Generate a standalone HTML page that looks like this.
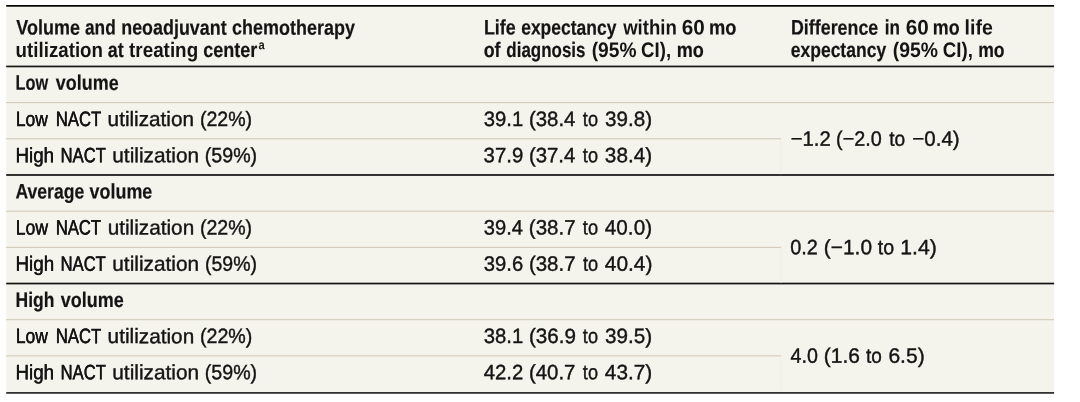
<!DOCTYPE html>
<html lang="en">
<head>
<meta charset="utf-8">
<title>Table</title>
<style>
html,body{margin:0;padding:0;background:#fff;}
body{width:1080px;height:402px;position:relative;overflow:hidden;font-family:"Liberation Sans",sans-serif;color:#141414;}
#bg{position:absolute;left:0;top:0;}
#tx{position:absolute;left:0;top:0;width:1080px;height:402px;will-change:transform;}
.t{position:absolute;left:0;top:0;white-space:nowrap;line-height:24px;height:24px;transform-origin:0 0;text-rendering:geometricPrecision;}
.b{font-weight:bold;font-size:21.0px;}
.k{-webkit-text-stroke:0.2px #141414;}
.r{font-size:20.7px;-webkit-text-stroke:0.4px #141414;}
.n{font-size:20.75px;-webkit-text-stroke:0.4px #141414;}
.s{font-weight:bold;font-size:13px;}
</style>
</head>
<body>
<svg id="bg" width="1080" height="402" viewBox="0 0 1080 402">
<rect x="6.2" y="5.5" width="1047.8999999999999" height="387.0" fill="#f5f4ec"/>
<rect x="6.2" y="5.00" width="1047.90" height="1.7" fill="#000"/>
<rect x="6.2" y="65.60" width="1047.90" height="1.7" fill="#181818"/>
<rect x="6.2" y="102.13" width="1047.90" height="1.0" fill="#cec6b4"/>
<rect x="6.2" y="138.31" width="775.00" height="1.0" fill="#cec6b4"/>
<rect x="6.2" y="174.14" width="1047.90" height="1.7" fill="#111"/>
<rect x="6.2" y="210.67" width="1047.90" height="1.0" fill="#cec6b4"/>
<rect x="6.2" y="246.85" width="775.00" height="1.0" fill="#cec6b4"/>
<rect x="6.2" y="282.68" width="1047.90" height="1.7" fill="#111"/>
<rect x="6.2" y="319.21" width="1047.90" height="1.0" fill="#cec6b4"/>
<rect x="6.2" y="355.39" width="775.00" height="1.0" fill="#cec6b4"/>
<rect x="6.2" y="392.00" width="1047.90" height="1.8" fill="#333331"/>
<rect x="780.3" y="139.31" width="1" height="34.88" fill="#efeee5"/>
<rect x="780.3" y="247.85" width="1" height="34.88" fill="#efeee5"/>
<rect x="780.3" y="356.39" width="1" height="34.88" fill="#efeee5"/>
</svg>
<div id="tx">
<div class="ln">
<div class="t b k" style="transform:matrix(0.8557,0.0005,0,1,16.31,16.60)">Volume </div>
<div class="t b k" style="transform:matrix(0.8229,0.0005,0,1,84.96,16.60)">and </div>
<div class="t b k" style="transform:matrix(0.8518,0.0005,0,1,121.23,16.60)">neoadjuvant </div>
<div class="t b k" style="transform:matrix(0.8558,0.0005,0,1,232.07,16.60)">chemotherapy </div>
</div>
<div class="ln">
<div class="t b" style="transform:matrix(0.8918,0.0005,0,1,15.60,39.00)">utilization </div>
<div class="t b k" style="transform:matrix(0.8541,0.0005,0,1,107.79,39.00)">at </div>
<div class="t b" style="transform:matrix(0.8968,0.0005,0,1,129.07,39.00)">treating </div>
<div class="t b k" style="transform:matrix(0.8599,0.0005,0,1,203.19,39.00)">center </div>
</div>
<div class="ln">
<div class="t s" style="transform:matrix(0.8577,0.0005,0,1,258.47,33.20)">a </div>
</div>
<div class="ln">
<div class="t b k" style="transform:matrix(0.8519,0.0005,0,1,483.88,16.60)">Life </div>
<div class="t b k" style="transform:matrix(0.8325,0.0005,0,1,521.17,16.60)">expectancy </div>
<div class="t b" style="transform:matrix(0.8854,0.0005,0,1,623.13,16.60)">within </div>
<div class="t b" style="transform:matrix(0.9864,0.0005,0,1,681.85,16.60)">60 </div>
<div class="t b k" style="transform:matrix(0.8720,0.0005,0,1,708.93,16.60)">mo </div>
</div>
<div class="ln">
<div class="t b k" style="transform:matrix(0.8484,0.0005,0,1,483.70,39.00)">of </div>
<div class="t b k" style="transform:matrix(0.8078,0.0005,0,1,506.32,39.00)">diagnosis </div>
<div class="t b" style="transform:matrix(0.9144,0.0005,0,1,591.63,39.00)">(95% </div>
<div class="t b" style="transform:matrix(0.8865,0.0005,0,1,641.10,39.00)">CI), </div>
<div class="t b k" style="transform:matrix(0.8626,0.0005,0,1,676.63,39.00)">mo </div>
</div>
<div class="ln">
<div class="t b k" style="transform:matrix(0.8500,0.0005,0,1,790.98,16.60)">Difference </div>
<div class="t b k" style="transform:matrix(0.8143,0.0005,0,1,884.87,16.60)">in </div>
<div class="t b" style="transform:matrix(0.9866,0.0005,0,1,905.66,16.60)">60 </div>
<div class="t b k" style="transform:matrix(0.8492,0.0005,0,1,932.80,16.60)">mo </div>
<div class="t b" style="transform:matrix(0.9296,0.0005,0,1,964.56,16.60)">life </div>
</div>
<div class="ln">
<div class="t b k" style="transform:matrix(0.8342,0.0005,0,1,790.70,39.00)">expectancy </div>
<div class="t b" style="transform:matrix(0.9241,0.0005,0,1,892.69,39.00)">(95% </div>
<div class="t b" style="transform:matrix(0.8936,0.0005,0,1,942.70,39.00)">CI), </div>
<div class="t b k" style="transform:matrix(0.8389,0.0005,0,1,978.18,39.00)">mo </div>
</div>
<div class="ln">
<div class="t b k" style="transform:matrix(0.7781,0.0005,0,1,15.61,71.85)">Low </div>
<div class="t b k" style="transform:matrix(0.8531,0.0005,0,1,55.87,71.85)">volume </div>
</div>
<div class="ln">
<div class="t r" style="text-shadow:0.20px 0 0 #141414;transform:matrix(0.8470,0.0005,0,1,15.71,108.03)">Low </div>
<div class="t r" style="text-shadow:0.26px 0 0 #141414;transform:matrix(0.8060,0.0005,0,1,55.74,108.03)">NACT </div>
<div class="t r" style="transform:matrix(1.0020,0.0005,0,1,107.61,108.03)">utilization </div>
<div class="t r" style="transform:matrix(0.9456,0.0005,0,1,199.92,108.03)">(22%) </div>
</div>
<div class="ln">
<div class="t n" style="transform:matrix(0.9761,0.0005,0,1,483.76,108.03)">39.1 </div>
<div class="t n" style="transform:matrix(0.9828,0.0005,0,1,528.95,108.03)">(38.4 </div>
<div class="t n" style="transform:matrix(0.8753,0.0005,0,1,582.87,108.03)">to </div>
<div class="t n" style="transform:matrix(0.9953,0.0005,0,1,605.01,108.03)">39.8) </div>
</div>
<div class="ln">
<div class="t n" style="transform:matrix(0.9768,0.0005,0,1,790.70,127.67)">−1.2 </div>
<div class="t n" style="transform:matrix(0.9563,0.0005,0,1,836.04,127.67)">(−2.0 </div>
<div class="t n" style="transform:matrix(0.9211,0.0005,0,1,889.30,127.67)">to </div>
<div class="t n" style="transform:matrix(0.9888,0.0005,0,1,912.33,127.67)">−0.4) </div>
</div>
<div class="ln">
<div class="t r" style="text-shadow:0.11px 0 0 #141414;transform:matrix(0.9083,0.0005,0,1,15.43,144.21)">High </div>
<div class="t r" style="text-shadow:0.27px 0 0 #141414;transform:matrix(0.8017,0.0005,0,1,60.61,144.21)">NACT </div>
<div class="t r" style="transform:matrix(1.0067,0.0005,0,1,112.29,144.21)">utilization </div>
<div class="t r" style="transform:matrix(0.9481,0.0005,0,1,204.83,144.21)">(59%) </div>
</div>
<div class="ln">
<div class="t n" style="transform:matrix(0.9803,0.0005,0,1,483.60,144.21)">37.9 </div>
<div class="t n" style="transform:matrix(0.9827,0.0005,0,1,528.90,144.21)">(37.4 </div>
<div class="t n" style="transform:matrix(0.8764,0.0005,0,1,582.87,144.21)">to </div>
<div class="t n" style="transform:matrix(0.9989,0.0005,0,1,604.87,144.21)">38.4) </div>
</div>
<div class="ln">
<div class="t b k" style="transform:matrix(0.8378,0.0005,0,1,15.43,180.39)">Average </div>
<div class="t b k" style="transform:matrix(0.8526,0.0005,0,1,89.62,180.39)">volume </div>
</div>
<div class="ln">
<div class="t r" style="text-shadow:0.19px 0 0 #141414;transform:matrix(0.8511,0.0005,0,1,15.64,216.57)">Low </div>
<div class="t r" style="text-shadow:0.27px 0 0 #141414;transform:matrix(0.8045,0.0005,0,1,55.68,216.57)">NACT </div>
<div class="t r" style="transform:matrix(1.0034,0.0005,0,1,107.65,216.57)">utilization </div>
<div class="t r" style="transform:matrix(0.9460,0.0005,0,1,199.88,216.57)">(22%) </div>
</div>
<div class="ln">
<div class="t n" style="transform:matrix(0.9721,0.0005,0,1,483.79,216.57)">39.4 </div>
<div class="t n" style="transform:matrix(0.9872,0.0005,0,1,528.87,216.57)">(38.7 </div>
<div class="t n" style="transform:matrix(0.8780,0.0005,0,1,582.87,216.57)">to </div>
<div class="t n" style="transform:matrix(0.9993,0.0005,0,1,604.80,216.57)">40.0) </div>
</div>
<div class="ln">
<div class="t n" style="transform:matrix(0.9612,0.0005,0,1,790.23,236.21)">0.2 </div>
<div class="t n" style="transform:matrix(1.0063,0.0005,0,1,823.84,236.21)">(−1.0 </div>
<div class="t n" style="transform:matrix(0.9460,0.0005,0,1,877.87,236.21)">to </div>
<div class="t n" style="transform:matrix(1.0204,0.0005,0,1,900.29,236.21)">1.4) </div>
</div>
<div class="ln">
<div class="t r" style="text-shadow:0.11px 0 0 #141414;transform:matrix(0.9108,0.0005,0,1,15.39,252.75)">High </div>
<div class="t r" style="text-shadow:0.27px 0 0 #141414;transform:matrix(0.8021,0.0005,0,1,60.59,252.75)">NACT </div>
<div class="t r" style="transform:matrix(1.0060,0.0005,0,1,112.29,252.75)">utilization </div>
<div class="t r" style="transform:matrix(0.9438,0.0005,0,1,204.97,252.75)">(59%) </div>
</div>
<div class="ln">
<div class="t n" style="transform:matrix(0.9747,0.0005,0,1,483.85,252.75)">39.6 </div>
<div class="t n" style="transform:matrix(0.9860,0.0005,0,1,528.91,252.75)">(38.7 </div>
<div class="t n" style="transform:matrix(0.8771,0.0005,0,1,582.90,252.75)">to </div>
<div class="t n" style="transform:matrix(1.0078,0.0005,0,1,604.80,252.75)">40.4) </div>
</div>
<div class="ln">
<div class="t b k" style="transform:matrix(0.8335,0.0005,0,1,15.60,288.93)">High </div>
<div class="t b k" style="transform:matrix(0.8566,0.0005,0,1,60.80,288.93)">volume </div>
</div>
<div class="ln">
<div class="t r" style="text-shadow:0.20px 0 0 #141414;transform:matrix(0.8470,0.0005,0,1,15.71,325.11)">Low </div>
<div class="t r" style="text-shadow:0.26px 0 0 #141414;transform:matrix(0.8061,0.0005,0,1,55.74,325.11)">NACT </div>
<div class="t r" style="transform:matrix(1.0040,0.0005,0,1,107.61,325.11)">utilization </div>
<div class="t r" style="transform:matrix(0.9494,0.0005,0,1,199.92,325.11)">(22%) </div>
</div>
<div class="ln">
<div class="t n" style="transform:matrix(0.9761,0.0005,0,1,483.76,325.11)">38.1 </div>
<div class="t n" style="transform:matrix(0.9965,0.0005,0,1,528.89,325.11)">(36.9 </div>
<div class="t n" style="transform:matrix(0.8753,0.0005,0,1,582.87,325.11)">to </div>
<div class="t n" style="transform:matrix(0.9969,0.0005,0,1,605.00,325.11)">39.5) </div>
</div>
<div class="ln">
<div class="t n" style="transform:matrix(0.9480,0.0005,0,1,790.60,344.75)">4.0 </div>
<div class="t n" style="transform:matrix(1.0100,0.0005,0,1,823.87,344.75)">(1.6 </div>
<div class="t n" style="transform:matrix(0.9163,0.0005,0,1,865.89,344.75)">to </div>
<div class="t n" style="transform:matrix(1.0142,0.0005,0,1,888.40,344.75)">6.5) </div>
</div>
<div class="ln">
<div class="t r" style="text-shadow:0.11px 0 0 #141414;transform:matrix(0.9083,0.0005,0,1,15.43,361.29)">High </div>
<div class="t r" style="text-shadow:0.27px 0 0 #141414;transform:matrix(0.8017,0.0005,0,1,60.61,361.29)">NACT </div>
<div class="t r" style="transform:matrix(1.0067,0.0005,0,1,112.29,361.29)">utilization </div>
<div class="t r" style="transform:matrix(0.9481,0.0005,0,1,204.83,361.29)">(59%) </div>
</div>
<div class="ln">
<div class="t n" style="transform:matrix(0.9826,0.0005,0,1,483.67,361.29)">42.2 </div>
<div class="t n" style="transform:matrix(0.9842,0.0005,0,1,528.90,361.29)">(40.7 </div>
<div class="t n" style="transform:matrix(0.8764,0.0005,0,1,582.87,361.29)">to </div>
<div class="t n" style="transform:matrix(0.9996,0.0005,0,1,604.84,361.29)">43.7) </div>
</div>
</div>
</body>
</html>
